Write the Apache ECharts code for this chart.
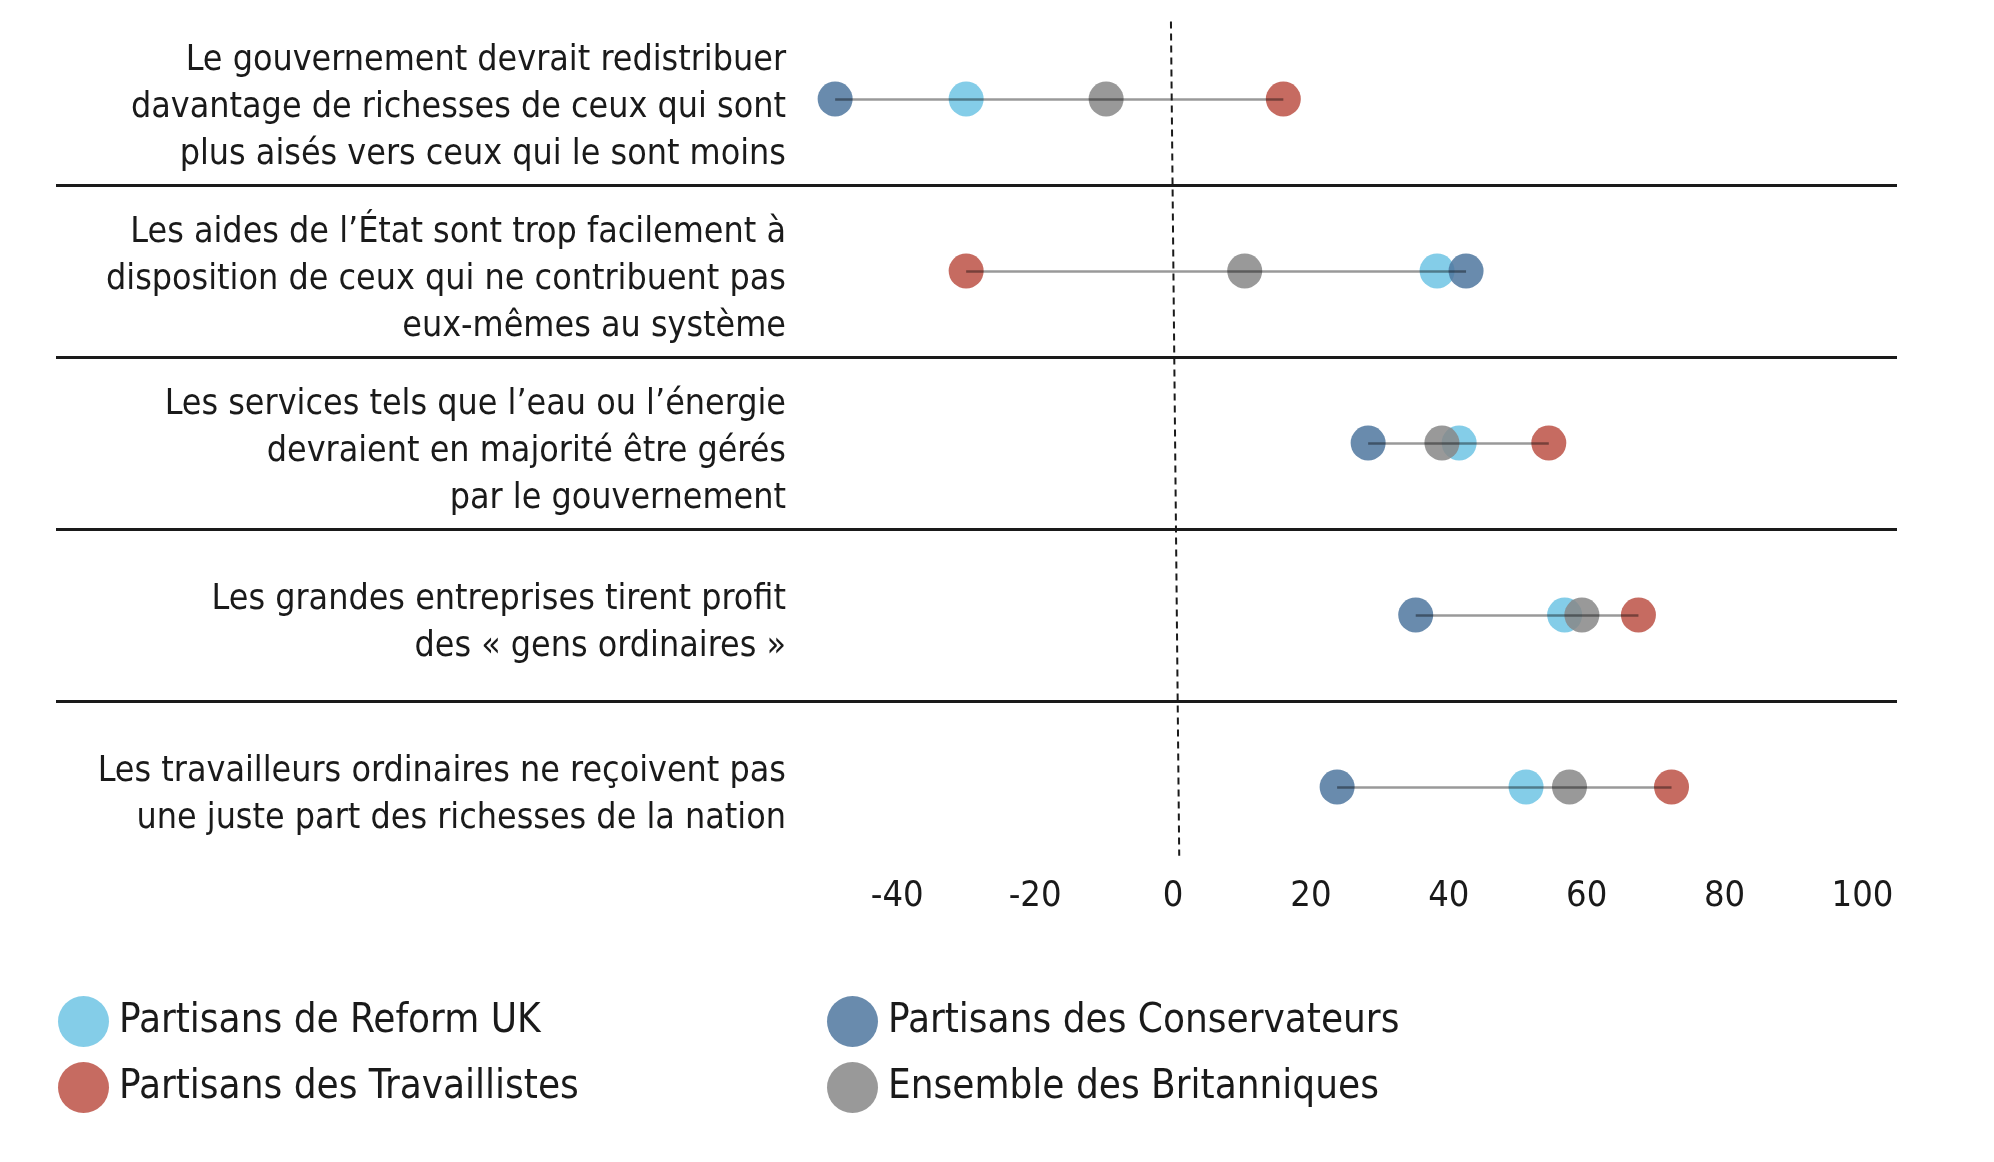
<!DOCTYPE html>
<html>
<head>
<meta charset="utf-8">
<title>Opinions des Britanniques</title>
<style>
html, body { margin: 0; padding: 0; background: #fff; }
#main { width: 1994px; height: 1162px; }
</style>
</head>
<body>
<div id="main"></div>
<script src="https://cdn.jsdelivr.net/npm/echarts@6/dist/echarts.min.js"></script>
<script>
var questions = [
    'Le gouvernement devrait redistribuer\ndavantage de richesses de ceux qui sont\nplus aisés vers ceux qui le sont moins',
    'Les aides de l\u2019État sont trop facilement à\ndisposition de ceux qui ne contribuent pas\neux-mêmes au système',
    'Les services tels que l\u2019eau ou l\u2019énergie\ndevraient en majorité être gérés\npar le gouvernement',
    'Les grandes entreprises tirent profit\ndes « gens ordinaires »',
    'Les travailleurs ordinaires ne reçoivent pas\nune juste part des richesses de la nation'
];
var reform        = [-30, 38.3, 41.5, 56.8, 51.2];
var travaillistes = [16, -30, 54.5, 67.5, 72.3];
var conservateurs = [-49, 42.5, 28.3, 35.2, 23.8];
var ensemble      = [-9.7, 10.4, 39, 59.3, 57.5];
var xTickLabels = [-40, -20, 0, 20, 40, 60, 80, 100];

var FONT = "'Liberation Sans Narrow', 'DejaVu Sans Condensed', 'Roboto', sans-serif";
var INK = '#1a1a1a';

var myChart = echarts.init(document.getElementById('main'));

function points(values) {
    return values.map(function (v, i) { return [v, i + 0.5]; });
}

// segment from lowest to highest group on each row
var spans = questions.map(function (q, i) {
    var vals = [reform[i], travaillistes[i], conservateurs[i], ensemble[i]];
    return { coords: [[Math.min.apply(null, vals), i + 0.5], [Math.max.apply(null, vals), i + 0.5]] };
});

function dotSeries(name, color, values) {
    return {
        name: name,
        type: 'scatter',
        symbol: 'circle',
        symbolSize: 35,
        itemStyle: { color: color, opacity: 0.85 },
        data: points(values),
        z: 3
    };
}

var legendText = { fontFamily: FONT, fontSize: 40, color: INK, padding: [0, 0, 0, 5] };

var option = {
    animation: false,
    backgroundColor: '#fff',
    grid: { left: 56, right: 97, top: 13, height: 860, outerBoundsMode: 'none', containLabel: false },
    legend: [{
        orient: 'vertical',
        left: 58,
        top: 996,
        padding: 0,
        itemWidth: 51,
        itemHeight: 51,
        itemGap: 15,
        icon: 'circle',
        textStyle: legendText,
        data: ['Partisans de Reform UK', 'Partisans des Travaillistes']
    }, {
        orient: 'vertical',
        left: 827,
        top: 996,
        padding: 0,
        itemWidth: 51,
        itemHeight: 51,
        itemGap: 15,
        icon: 'circle',
        textStyle: legendText,
        data: ['Partisans des Conservateurs', 'Ensemble des Britanniques']
    }],
    xAxis: {
        type: 'value',
        min: -162,
        max: 105,
        interval: 2,
        axisLine: { show: false },
        axisTick: { show: false },
        splitLine: { show: false },
        axisLabel: {
            margin: 6,
            fontFamily: FONT,
            fontSize: 36,
            color: INK,
            formatter: function (v) {
                return xTickLabels.indexOf(v) >= 0 ? String(v) : '';
            }
        }
    },
    yAxis: {
        type: 'value',
        inverse: true,
        min: 0,
        max: 5,
        interval: 0.05,
        axisLine: { show: false },
        axisTick: { show: false },
        splitLine: { show: false },
        axisLabel: {
            margin: -730,
            align: 'right',
            fontFamily: FONT,
            fontSize: 35.5,
            lineHeight: 47,
            color: INK,
            // question text sits a touch below the row's dots
            formatter: function (v) {
                var k = Math.round(v * 20);
                return k % 20 === 11 ? questions[(k - 11) / 20] : '';
            }
        }
    },
    series: [
        dotSeries('Partisans de Reform UK', '#6ec4e4', reform),
        dotSeries('Partisans des Travaillistes', '#bc5145', travaillistes),
        dotSeries('Ensemble des Britanniques', '#878787', ensemble),
        dotSeries('Partisans des Conservateurs', '#4f779f', conservateurs),
        {
            type: 'lines',
            coordinateSystem: 'cartesian2d',
            silent: true,
            z: 4,
            lineStyle: { color: 'rgba(0,0,0,0.4)', width: 2.5, opacity: 1 },
            data: spans,
            markLine: {
                silent: true,
                symbol: 'none',
                label: { show: false },
                lineStyle: { color: INK, width: 3, type: 'solid' },
                data: [
                    { yAxis: 1 }, { yAxis: 2 }, { yAxis: 3 }, { yAxis: 4 },
                    [
                        { coord: [-0.3, 0.05], lineStyle: { color: INK, width: 2, type: [7, 5] } },
                        { coord: [0.9, 4.9] }
                    ]
                ]
            }
        }
    ]
};

myChart.setOption(option);
</script>
</body>
</html>
